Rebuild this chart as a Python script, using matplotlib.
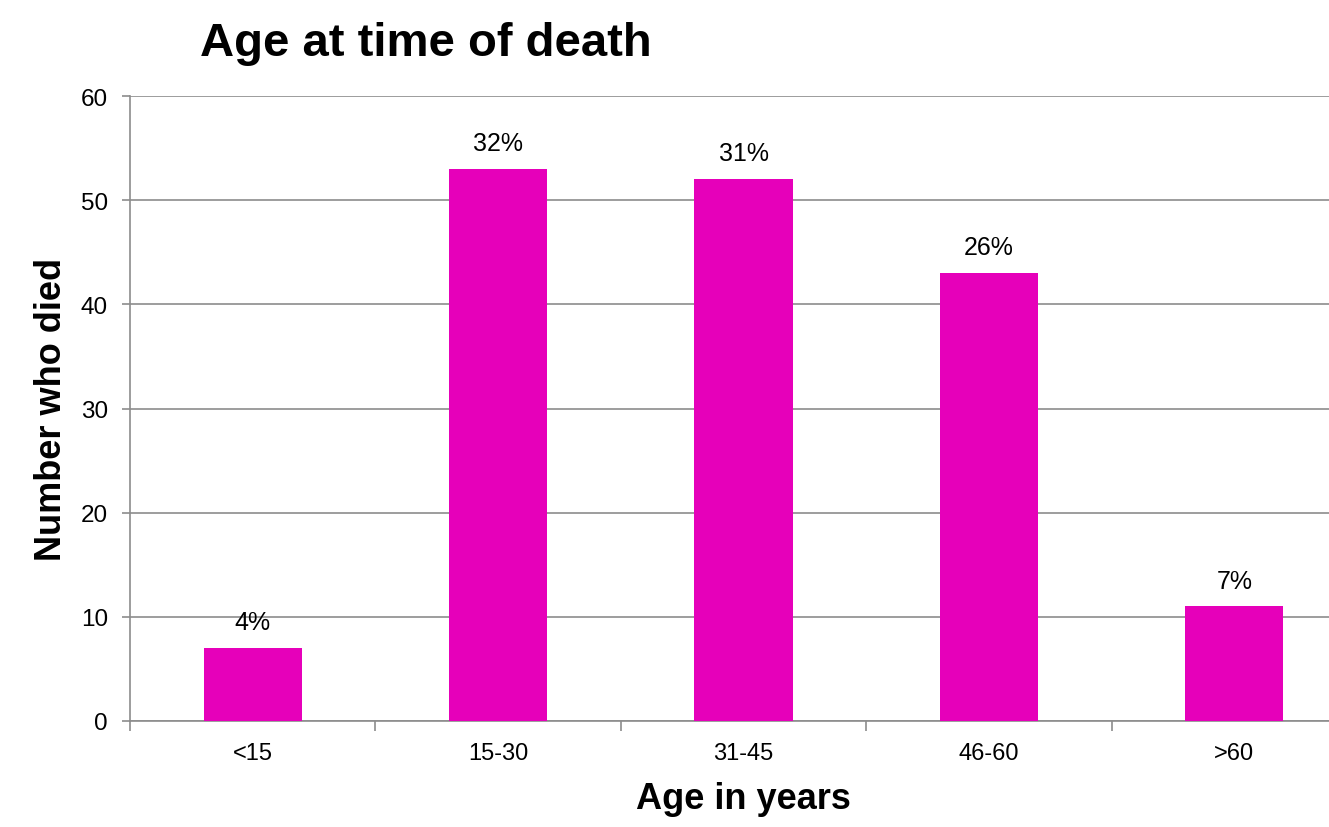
import numpy as np
import matplotlib.pyplot as plt

plt.rcParams['font.family'] = ['Liberation Sans', 'DejaVu Sans']

# data
age_groups = ['<15', '15-30', '31-45', '46-60', '>60']
deaths = [7, 53, 52, 43, 11]
pct_labels = ['4%', '32%', '31%', '26%', '7%']

bar_color = '#E600BA'
grid_color = '#8c8c8c'

fig = plt.figure(figsize=(13.29, 8.28), dpi=100)
ax = fig.add_axes([130 / 1329, 1 - 722 / 828, 1 - 130 / 1329, (722 - 97) / 828])

x = np.arange(len(age_groups))
bars = ax.bar(x, deaths, width=0.4, color=bar_color, zorder=3)

for b, lab in zip(bars, pct_labels):
    ax.annotate(lab, (b.get_x() + b.get_width() / 2, b.get_height()),
                xytext=(0, 10), textcoords='offset points',
                ha='center', va='bottom', fontsize=18)

ax.set_yticks(range(0, 61, 10))
ax.set_xticks(x)
ax.set_xticklabels(age_groups, fontsize=17)
ax.set_xticks(np.arange(-0.5, 5, 1), minor=True)
ax.set_ylim(0, 60)
# right edge of the plot runs past the picture
ax.set_xlim(-0.5, 4.5 - 28 / 245)

ax.tick_params(axis='x', which='major', length=0, pad=15)
ax.tick_params(axis='x', which='minor', length=7, width=1.2, color=grid_color, direction='out')
ax.tick_params(axis='y', labelsize=17.5, length=6, width=1.2, color=grid_color, pad=10)

ax.yaxis.grid(True, color=grid_color, linewidth=1.2, zorder=0)
for s in ['top', 'right']:
    ax.spines[s].set_visible(False)
for s in ['left', 'bottom']:
    ax.spines[s].set_color(grid_color)
    ax.spines[s].set_linewidth(1.2)

ax.set_xlabel('Age in years', fontsize=26, fontweight='bold')
ax.xaxis.set_label_coords((743 - 130) / 1199, -(800 - 722) / 625 )
ax.xaxis.label.set_va('center')
ax.set_ylabel('Number who died', fontsize=26, fontweight='bold')
ax.yaxis.set_label_coords(-(130 - 52) / 1199, 0.5)
ax.yaxis.label.set_va('center')
fig.text(200 / 1329, 1 - 44 / 828, 'Age at time of death', fontsize=34,
         fontweight='bold', ha='left', va='center')

fig.savefig('out.png', dpi=100)
